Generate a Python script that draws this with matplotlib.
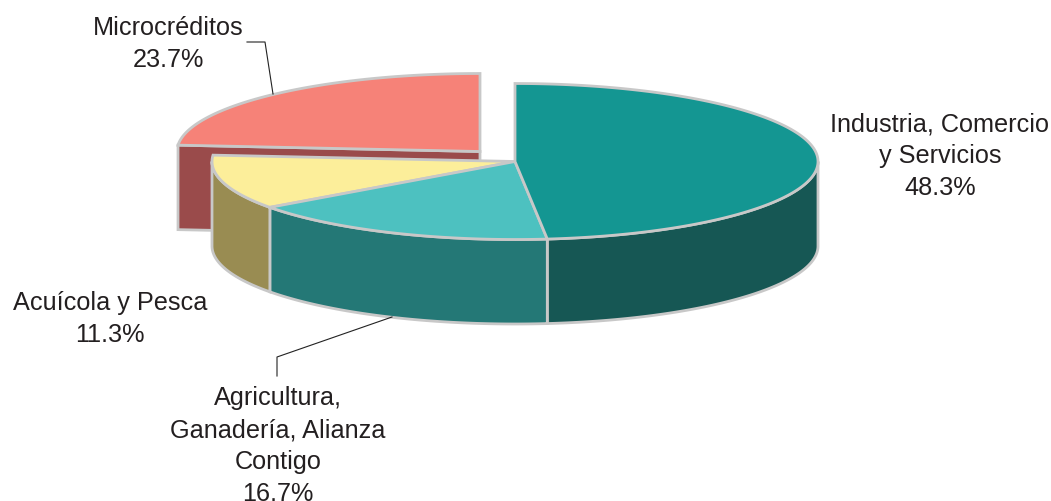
import numpy as np
import matplotlib
matplotlib.use("Agg")
import matplotlib.pyplot as plt
from matplotlib.patches import Polygon

categories = ["Industria, Comercio\ny Servicios", "Agricultura,\nGanadería, Alianza\nContigo",
              "Acuícola y Pesca", "Microcréditos"]
values = [48.3, 16.7, 11.3, 23.7]
top_colors = ["#149692", "#4DC1C0", "#FCEE9A", "#F68278"]
side_colors = ["#165754", "#247876", "#998C52", "#9A4B4B"]

EDGE = "#C8C8C8"
CX, CY, RX, RY, DEPTH = 515, 162.5, 303, 78, 84.5
EXPLODE = [(0, 0), (0, 0), (0, 0), (-35, -10)]
LW = 2.0

fig = plt.figure(figsize=(10.51, 5.02), dpi=100)
ax = fig.add_axes([0, 0, 1, 1])
ax.set_xlim(0, 1051)
ax.set_ylim(502, 0)
ax.axis("off")


def arc(t0, t1, dx=0, dy=0, drop=0):
    t = np.radians(np.linspace(t0, t1, 200))
    return np.column_stack([CX + dx + RX * np.sin(t), CY + dy + drop - RY * np.cos(t)])


def poly(pts, color, z):
    ax.add_patch(Polygon(pts, closed=True, facecolor=color, edgecolor=EDGE, lw=LW,
                         joinstyle="miter", zorder=z))


edges = np.concatenate([[0], np.cumsum(values)]) / sum(values) * 360
spans = list(zip(edges[:-1], edges[1:]))

# exploded slice: cut face and top
a0, a1 = spans[3]
dx, dy = EXPLODE[3]
corner = arc(a0, a0, dx, dy)[0]
center = (CX + dx, CY + dy)
poly([corner, center, (center[0], center[1] + DEPTH), (corner[0], corner[1] + DEPTH)], side_colors[3], 1)
poly(np.vstack([[center], arc(a0, a1, dx, dy)]), top_colors[3], 2)

# outer walls of the remaining slices, then tops
for i in range(3):
    s0, s1 = spans[i]
    v0, v1 = max(s0, 90), min(s1, 270)
    poly(np.vstack([arc(v0, v1), arc(v1, v0, drop=DEPTH)]), side_colors[i], 3)
for i in [2, 1, 0]:
    s0, s1 = spans[i]
    poly(np.vstack([[(CX, CY)], arc(s0, s1)]), top_colors[i], 4 + (2 - i))

# leader lines
ax.plot([273, 265, 247], [95, 43, 43], color="#222222", lw=0.8, zorder=8)
ax.plot([392, 277, 277], [318, 358, 377], color="#222222", lw=0.8, zorder=8)

label_pos = [(940, 156), (278, 446), (110, 319), (168, 44)]
for cat, val, (x, y) in zip(categories, values, label_pos):
    ax.text(x, y, f"{cat}\n{val:.1f}%", ha="center", va="center", multialignment="center",
            family="Liberation Sans", fontsize=18.2, color="#231F20", linespacing=1.41, zorder=9)

fig.savefig("out.png", dpi=100)
